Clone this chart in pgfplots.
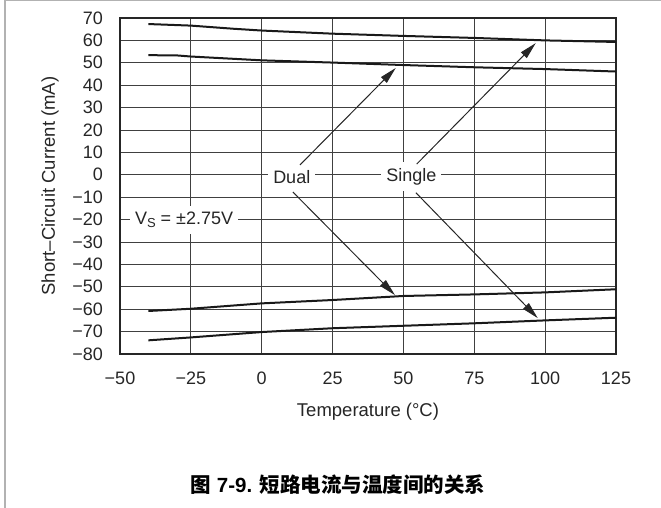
\documentclass[border=0pt]{standalone}
\usepackage{pgfplots}
\pgfplotsset{compat=1.18}
\usetikzlibrary{arrows.meta}
\usepackage{fontspec}
\setmainfont{Liberation Sans}
\newfontfamily\cjk{Noto Sans CJK SC}
\begin{document}
\begin{tikzpicture}[x=1pt,y=1pt]
\path[use as bounding box] (0pt,0pt) rectangle (661pt,508pt);
\draw[black!30, line width=1.3pt] (5pt,0pt) -- (5pt,507.3pt) -- (661pt,507.3pt);
\begin{axis}[
  at={(120pt,154pt)}, anchor=south west,
  scale only axis, width=496pt, height=336pt,
  xmin=-50, xmax=125, ymin=-80, ymax=70,
  xtick={-50,-25,0,25,50,75,100,125},
  xticklabels={−50,−25,0,25,50,75,100,125},
  ytick={-80,-70,-60,-50,-40,-30,-20,-10,0,10,20,30,40,50,60,70},
  yticklabels={−80,−70,−60,−50,−40,−30,−20,−10,0,10,20,30,40,50,60,70},
  major tick length=0pt,
  grid=major,
  major grid style={black!75, line width=0.9pt},
  axis line style={line width=2.4pt, black!85},
  ticklabel style={font=\fontsize{18}{20}\selectfont, text=black!85},
  yticklabel style={inner sep=0pt, anchor=east, xshift=-17pt},
  xticklabel style={inner sep=0pt, anchor=north, yshift=-17.5pt},
  curve/.style={black!90, line width=2pt, no markers, line join=round},
]
% Single, positive
\addplot[curve] coordinates {(-40,67.3) (-25,66.6) (-10,65.2) (0,64.4) (25,63.0) (50,62.0) (75,61.1) (100,60.0) (125,59.3)};
% Dual, positive
\addplot[curve] coordinates {(-40,53.4) (-30,53.3) (-25,52.8) (0,51.1) (25,50.1) (50,49.0) (75,48.0) (100,47.2) (125,46.1)};
% Dual, negative
\addplot[curve] coordinates {(-40,-60.8) (-25,-59.8) (0,-57.4) (25,-55.9) (50,-54.1) (75,-53.4) (100,-52.5) (125,-51.1)};
% Single, negative
\addplot[curve] coordinates {(-40,-73.9) (-25,-72.6) (0,-70.2) (25,-68.5) (50,-67.4) (75,-66.3) (100,-65.0) (125,-63.8)};

\node[fill=white, inner xsep=5pt, inner ysep=6pt, font=\fontsize{18}{20}\selectfont, text=black!85] at (axis cs:10.6,-0.8) {Dual};
\node[fill=white, inner xsep=5pt, inner ysep=6pt, font=\fontsize{18}{20}\selectfont, text=black!85] at (axis cs:52.8,-0.8) {Single};
\node[fill=white, inner xsep=5pt, inner ysep=6pt, font=\fontsize{18}{20}\selectfont, text=black!85] at (axis cs:-27.4,-20.2) {V\raisebox{-0.35ex}{\fontsize{13}{13}\selectfont S} = ±2.75V};

\draw[black!85, line width=1pt, -{Triangle[length=17pt,width=8pt]}] (axis cs:13.5,4.4) -- (axis cs:47.3,47.7);
\draw[black!85, line width=1pt, -{Triangle[length=17pt,width=8pt]}] (axis cs:11,-7.7) -- (axis cs:47,-53.7);
\draw[black!85, line width=1pt, -{Triangle[length=17pt,width=8pt]}] (axis cs:54.7,4.8) -- (axis cs:96.7,58.8);
\draw[black!85, line width=1pt, -{Triangle[length=17pt,width=8pt]}] (axis cs:54.4,-8) -- (axis cs:97.4,-64);
\end{axis}
\node[rotate=90, font=\fontsize{18.5}{20}\selectfont, text=black!85] at (50pt,322pt) {Short–Circuit Current (mA)};
\node[font=\fontsize{18.5}{20}\selectfont, text=black!85] at (368pt,96pt) {Temperature (°C)};
\node[font=\bfseries\fontsize{20.5}{22}\selectfont] at (338pt,23pt) {{\cjk\bfseries 图} 7-9. {\cjk\bfseries 短路电流与温度间的关系}};
\end{tikzpicture}
\end{document}
